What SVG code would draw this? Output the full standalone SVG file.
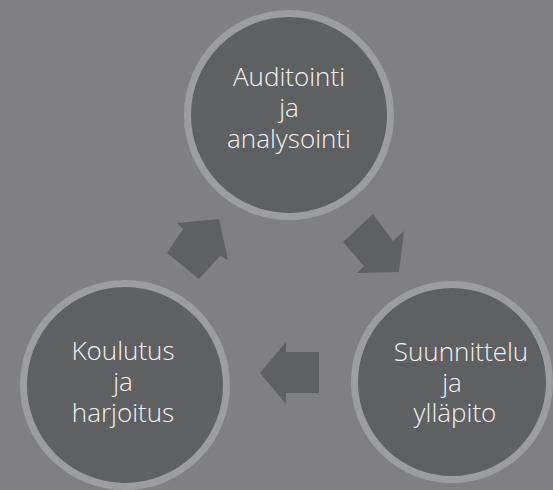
<svg xmlns="http://www.w3.org/2000/svg" width="553" height="490" viewBox="0 0 553 490">
<style>
.ring{fill:#5f6062;stroke:#9c9da1;stroke-width:7}
.lbl{font-family:"Open Sans","Liberation Sans",sans-serif;font-weight:300;font-size:26px;fill:#f2f2f2;text-anchor:middle}
.arr{fill:#5f6062}
</style>
<rect width="553" height="490" fill="#808084"/>
<g id="connectors">
<polygon class="arr" points="219,219 228,260 220,256 199,279 167,253 183,229 177,223"/>
<polygon class="arr" points="373,214 393,241 404,231 399,272 357,273 364,266 343,242"/>
<polygon class="arr" points="260,373 286,342 286,352 319,352 319,393 286,393 286,404"/>
</g>
<g id="node-audit">
<circle class="ring" cx="289" cy="115" r="101.5"/>
<text class="lbl" x="289" y="86">Auditointi</text>
<text class="lbl" x="289" y="117">ja</text>
<text class="lbl" x="289" y="148">analysointi</text>
</g>
<g id="node-suunnittelu">
<circle class="ring" cx="452" cy="382" r="97.5"/>
<text class="lbl" x="461" y="361">Suunnittelu</text>
<text class="lbl" x="452" y="392">ja</text>
<text class="lbl" x="455" y="422">ylläpito</text>
</g>
<g id="node-koulutus">
<circle class="ring" cx="125" cy="385" r="101.5"/>
<text class="lbl" x="123" y="360">Koulutus</text>
<text class="lbl" x="123" y="391">ja</text>
<text class="lbl" x="123" y="422">harjoitus</text>
</g>
</svg>
